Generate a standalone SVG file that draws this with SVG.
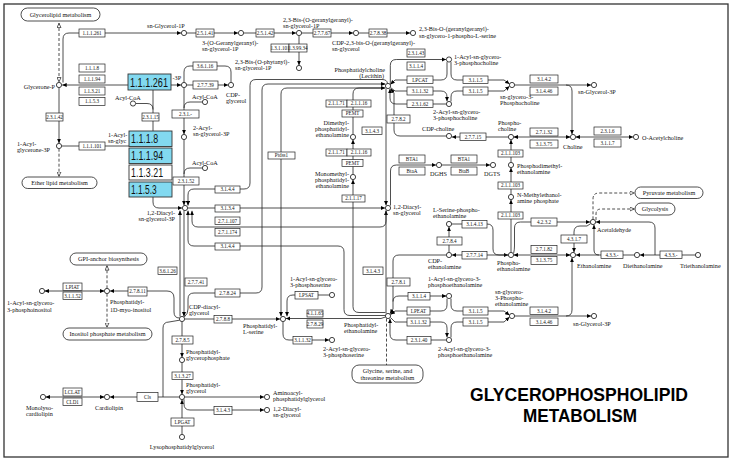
<svg xmlns="http://www.w3.org/2000/svg" width="733" height="462" viewBox="0 0 733 462">
<defs>
<style>
text{font-family:"Liberation Serif","Times New Roman",serif;fill:#111}
.k{font-size:5.1px;text-anchor:middle}
.t{font-size:6.2px}
.r{text-anchor:end}
.m{text-anchor:middle}
.n rect{fill:#fff;stroke:#222;stroke-width:0.7}
#connectors path{fill:none;stroke:#222;stroke-width:0.8}
#connectors path.d{stroke-dasharray:3 2}
#connectors path.a{marker-end:url(#ah)}
#connectors path.b{marker-start:url(#ahs)}
#connectors path.o{marker-end:url(#oh)}
#connectors path.os{marker-start:url(#ohs)}
.c{fill:#fff;stroke:#111;stroke-width:0.8}
.bl rect{fill:#82d9f0;stroke:#333;stroke-width:0.9}
.wb rect{fill:#fff;stroke:#333;stroke-width:0.9}
.bt{font-family:"Liberation Sans",Arial,sans-serif;font-size:12px;fill:#111}
.mp rect{fill:#fff;stroke:#222;stroke-width:0.8}
.ttl{font-family:"Liberation Sans",Arial,sans-serif;font-weight:700;font-size:19px;fill:#000;text-anchor:middle}
</style>
<marker id="ah" viewBox="0 0 6 6" refX="6" refY="3" markerWidth="4.5" markerHeight="4.5" markerUnits="userSpaceOnUse" orient="auto"><path d="M0,0.3 L6,3 L0,5.7z" fill="#000"/></marker>
<marker id="ahs" viewBox="0 0 6 6" refX="6" refY="3" markerWidth="4.5" markerHeight="4.5" markerUnits="userSpaceOnUse" orient="auto-start-reverse"><path d="M0,0.3 L6,3 L0,5.7z" fill="#000"/></marker>
<marker id="oh" viewBox="0 0 8 8" refX="8" refY="4" markerWidth="5" markerHeight="5" markerUnits="userSpaceOnUse" orient="auto"><path d="M0.6,0.8 L7.4,4 L0.6,7.2z" fill="#fff" stroke="#000" stroke-width="1"/></marker>
<marker id="ohs" viewBox="0 0 8 8" refX="8" refY="4" markerWidth="5" markerHeight="5" markerUnits="userSpaceOnUse" orient="auto-start-reverse"><path d="M0.6,0.8 L7.4,4 L0.6,7.2z" fill="#fff" stroke="#000" stroke-width="1"/></marker>
</defs>
<rect x="0" y="0" width="733" height="462" fill="#fff"/>
<rect x="4" y="4" width="724" height="453" fill="none" stroke="#333" stroke-width="1.3"/>

<g id="connectors">
<path class="a" d="M63,82.5 V39 Q63,33 69,33 H181.2"/>
<path class="a" d="M186.7,33 H238.2"/>
<path class="a" d="M243.7,33 H296.2"/>
<path class="a" d="M301.7,33 H353.2"/>
<path class="a" d="M358.7,33 H410.2"/>
<path class="a" d="M299,35.7 V65.2"/>
<path class="d o os" d="M59,23 V82.2"/>
<path class="a" d="M128,85 H62.2"/>
<path class="a" d="M171,85 H181.2"/>
<path class="a" d="M59,87.7 V143.2"/>
<path d="M61.7,146 H129"/>
<path class="d o" d="M59,148.7 V176.5"/>
<path d="M153,90 V131"/>
<path d="M135.7,103.5 H147 Q153,103.5 153,109.5"/>
<path class="a" d="M184,87.7 V134.2"/>
<path d="M202.3,102 H190 Q184,102 184,108"/>
<path d="M184,82.3 V72 Q184,66 190,66 H225 Q231,66 231,72 V82.3"/>
<path class="a" d="M186.7,85 H228.2"/>
<path class="a" d="M184,139.7 V205.2"/>
<path d="M202.3,168 H190 Q184,168 184,174"/>
<path class="a" d="M387.5,83.4 Q387,79.5 382,79.5 H256 Q250,79.5 250,85.5 V183 Q250,189 244,189 H194 Q188,189 188,195 V205.6"/>
<path class="a" d="M184.3,317 Q188,314 188,309 V299 Q188,293 194,293 H256 Q262,293 262,287 V90 Q262,84 268,84 H385.4"/>
<path class="a" d="M381,88 H287 Q281,88 281,94 V316.4"/>
<path class="a" d="M359,88 H385.4"/>
<path d="M353,134.3 V94 Q353,88 359,88"/>
<path class="a" d="M385.4,312.5 H359 Q353,312.5 353,306.5 V179.7"/>
<path class="a" d="M353,174.3 V139.7"/>
<path class="a" d="M390.3,84.3 V65.5 Q390.3,59.5 396.3,59.5 H446.2"/>
<path class="a" d="M447,62.1 V74 Q447,80 441,80 H395 L390.4,84.6"/>
<path class="a" d="M390.6,87.6 L395,91 H441 Q447,91 447,97 V101.3"/>
<path class="a" d="M451,62.1 V74 Q451,80 457,80 H504 L509.6,84"/>
<path class="a" d="M451,101.4 V97 Q451,91 457,91 H504 L509.6,86.2"/>
<path class="a" d="M446.4,104 H396 Q390,104 390,98 V88.8"/>
<path class="a" d="M446.4,136 H400 Q394,136 394,130 V93 L390.6,88.6"/>
<path class="a" d="M386,88.6 V205.4"/>
<path class="a" d="M390.5,205.6 V171 Q390.5,165 396.5,165 H436.2"/>
<path class="a" d="M441.7,165 H490.2"/>
<path class="a" d="M508.4,137 H451.8"/>
<path class="a b" d="M513.7,137 H570.3"/>
<path class="a" d="M514.7,85 H566 Q572,85 572,91 V134.3"/>
<path class="a" d="M566,85 H591.2"/>
<path class="a b" d="M575.7,137 H633.2"/>
<path class="a" d="M511,252.3 V199.8"/>
<path class="a" d="M511,194.3 V167.8"/>
<path class="a" d="M511,162.3 V139.8"/>
<path class="a" d="M513.6,253.4 Q514.5,250 514.5,246 V228 Q514.5,222 520.5,222 H590.2"/>
<path class="a" d="M451.7,224 H487 Q493,224 493,230 V249 Q493,255 499,255 H508.2"/>
<path class="a" d="M508.3,255 H451.8"/>
<path class="a" d="M449,252.3 V226.8"/>
<path class="a b" d="M513.7,255 H570.3"/>
<path class="a" d="M590.7,223.6 L587,226 H580 Q574,226 574,232 V252.3"/>
<path class="a" d="M634.3,255 H575.8"/>
<path class="a" d="M599,255 Q594,255 594,250 V224.8"/>
<path class="a" d="M695.3,255 H639.8"/>
<path class="a" d="M655,255 V228 Q655,222 649,222 H595.8"/>
<path class="d o" d="M593,219.3 V199 Q593,193 599,193 H634.5"/>
<path class="d o" d="M596,220 V214 Q596,209 601,209 H634.5"/>
<path class="a" d="M446.3,255 H399 Q393,255 393,261 V309 L390,313.8"/>
<path class="a" d="M393,301.5 Q393,296 399,296 H446.3"/>
<path class="a" d="M386,313.5 V210.6"/>
<path class="a" d="M447,298.6 V305 Q447,311 441,311 H395 L390.5,314.6"/>
<path class="a" d="M390.6,317.6 L395,322 H441 Q447,322 447,328 V337.3"/>
<path class="a" d="M451,298.6 V305 Q451,311 457,311 H504 L509.6,315.2"/>
<path class="a" d="M451,337.4 V328 Q451,322 457,322 H504 L509.6,317"/>
<path class="a" d="M446.3,340 H396 Q390,340 390,334 V318.7"/>
<path class="d" d="M386.5,318.6 V365"/>
<path class="a" d="M514.7,316 H566 Q572,316 572,310 V257.8"/>
<path class="a" d="M566,316 H591.2"/>
<path class="a" d="M385.4,317 L381,318.5 H285.8"/>
<path class="a" d="M385.5,315.5 H350 Q344,315.5 344,309.5 V252 Q344,246 338,246 H194 Q188,246 188,240 V210.6"/>
<path class="a" d="M386,210.6 V221 Q386,227 380,227 H198 Q192,227 192,221 V210.8"/>
<path class="a" d="M187.7,208 H385.2"/>
<path class="a" d="M153,197 V202 Q153,208 159,208 H182.2"/>
<path class="a" d="M180,316.5 V210.5"/>
<path class="a" d="M184,210.6 V316.5"/>
<path class="a" d="M184.7,319 H280.2"/>
<path class="a" d="M329.3,295 H293 Q287,295 287,301 V316.3"/>
<path class="a" d="M283,321.7 V334 Q283,340 289,340 H329.2"/>
<path class="a" d="M179.4,318 Q174,318 174,312 V298 Q174,291 167,291 H109.8"/>
<path class="a b" d="M44.7,291 H104.3"/>
<path class="o d" d="M107,288.3 V265.5"/>
<path class="o d" d="M107,293.7 V327.5"/>
<path class="a" d="M179.3,397 H109.8"/>
<path d="M163,397 V328 Q163,322 169,322 L179.6,320.2"/>
<path class="a b" d="M45.7,397 H104.3"/>
<path class="a" d="M182,321.7 V357.2"/>
<path class="a" d="M182,362.7 V394.2"/>
<path class="a" d="M182,434.3 V399.8"/>
<path class="a" d="M184.7,397 H264.2"/>
<path class="a" d="M184,399.3 V404 Q184,410 190,410 H264.2"/>
</g>

<!-- map links -->
<g id="map-glycerolipid" class="mp"><rect x="21" y="8" width="79" height="13" rx="6.5"/><text class="t m" x="60.5" y="16.8">Glycerolipid metabolism</text></g>
<g id="map-etherlipid" class="mp"><rect x="22" y="177" width="75" height="11.5" rx="5.7"/><text class="t m" x="59.5" y="184.8">Ether lipid metabolism</text></g>
<g id="map-gpi" class="mp"><rect x="70" y="253" width="77" height="12" rx="6"/><text class="t m" x="108.5" y="261.2">GPI-anchor biosynthesis</text></g>
<g id="map-inositol" class="mp"><rect x="63" y="328" width="89" height="12" rx="6"/><text class="t m" x="107.5" y="336.2">Inositol phosphate metabolism</text></g>
<g id="map-glycine" class="mp"><rect x="352" y="365" width="71" height="18" rx="7"/><text class="t m" x="387.5" y="373">Glycine, serine, and</text><text class="t m" x="387.5" y="379.5">threonine metabolism</text></g>
<g id="map-pyruvate" class="mp"><rect x="635" y="187" width="68" height="11.5" rx="5.7"/><text class="t m" x="669" y="194.7">Pyruvate metabolism</text></g>
<g id="map-glycolysis" class="mp"><rect x="635" y="203" width="40" height="12" rx="6"/><text class="t m" x="655" y="211.2">Glycolysis</text></g>

<!-- enzyme boxes -->
<g id="e1" class="n"><rect x="79" y="29" width="26" height="8"/><text class="k" x="92" y="34.8">1.1.1.261</text></g>
<g id="e2" class="n"><rect x="196" y="29" width="18" height="8"/><text class="k" x="205" y="34.8">2.5.1.41</text></g>
<g id="e3" class="n"><rect x="256" y="29" width="18" height="8"/><text class="k" x="265" y="34.8">2.5.1.42</text></g>
<g id="e4" class="n"><rect x="313" y="29" width="18" height="8"/><text class="k" x="322" y="34.8">2.7.7.67</text></g>
<g id="e5" class="n"><rect x="369" y="29" width="18" height="8"/><text class="k" x="378" y="34.8">2.7.8.38</text></g>
<g id="e6" class="n"><rect x="271" y="44" width="18" height="8"/><text class="k" x="280" y="49.8">1.3.1.101</text></g>
<g id="e7" class="n"><rect x="289" y="44" width="18" height="8"/><text class="k" x="298" y="49.8">1.3.99.34</text></g>
<g id="e8" class="n"><rect x="79" y="64" width="26" height="8"/><text class="k" x="92" y="69.8">1.1.1.8</text></g>
<g id="e9" class="n"><rect x="79" y="75" width="26" height="8"/><text class="k" x="92" y="80.8">1.1.1.94</text></g>
<g id="e10" class="n"><rect x="79" y="87" width="26" height="8"/><text class="k" x="92" y="92.8">1.1.3.21</text></g>
<g id="e11" class="n"><rect x="79" y="97.5" width="26" height="8"/><text class="k" x="92" y="103.3">1.1.5.3</text></g>
<g id="e12" class="n"><rect x="46" y="113" width="17" height="8"/><text class="k" x="54.5" y="118.8">2.3.1.42</text></g>
<g id="e13" class="n"><rect x="142" y="113" width="17" height="8"/><text class="k" x="150.5" y="118.8">2.3.1.15</text></g>
<g id="e14" class="n"><rect x="172" y="110" width="27" height="8"/><text class="k" x="185.5" y="115.8">2.3.1.-</text></g>
<g id="e15" class="n"><rect x="79" y="142" width="26" height="8"/><text class="k" x="92" y="147.8">1.1.1.101</text></g>
<g id="e16" class="n"><rect x="193" y="62" width="24" height="8"/><text class="k" x="205" y="67.8">3.6.1.16</text></g>
<g id="e17" class="n"><rect x="193" y="81" width="25" height="8"/><text class="k" x="205.5" y="86.8">2.7.7.39</text></g>
<g id="e18" class="n"><rect x="173" y="177" width="26" height="8"/><text class="k" x="186" y="182.8">2.3.1.52</text></g>
<g id="e19" class="n"><rect x="215" y="186" width="25" height="7"/><text class="k" x="227.5" y="191.3">3.1.4.4</text></g>
<g id="e20" class="n"><rect x="215" y="205" width="25" height="7"/><text class="k" x="227.5" y="210.3">3.1.3.4</text></g>
<g id="e21" class="n"><rect x="215" y="217" width="25" height="7.5"/><text class="k" x="227.5" y="222.5">2.7.1.107</text></g>
<g id="e22" class="n"><rect x="215" y="228.5" width="25" height="7.5"/><text class="k" x="227.5" y="234">2.7.1.174</text></g>
<g id="e23" class="n"><rect x="215" y="243" width="25" height="7"/><text class="k" x="227.5" y="248.3">3.1.4.4</text></g>
<g id="e24" class="n"><rect x="268" y="152" width="27" height="7"/><text class="k" x="281.5" y="157.3">Ptdss1</text></g>
<g id="e25" class="n"><rect x="326" y="100" width="21" height="7"/><text class="k" x="336.5" y="105.3">2.1.1.71</text></g>
<g id="e26" class="n"><rect x="347" y="100" width="24" height="7"/><text class="k" x="359" y="105.3">2.1.1.16</text></g>
<g id="e27" class="n"><rect x="342" y="110" width="21" height="7"/><text class="k" x="352.5" y="115.3">PEMT</text></g>
<g id="e28" class="n"><rect x="326" y="149" width="21" height="7"/><text class="k" x="336.5" y="154.3">2.1.1.71</text></g>
<g id="e29" class="n"><rect x="347" y="149" width="24" height="7"/><text class="k" x="359" y="154.3">2.1.1.16</text></g>
<g id="e30" class="n"><rect x="342" y="159.5" width="21" height="7"/><text class="k" x="352.5" y="164.8">PEMT</text></g>
<g id="e31" class="n"><rect x="342" y="195" width="23" height="7"/><text class="k" x="353.5" y="200.3">2.1.1.17</text></g>
<g id="e32" class="n"><rect x="407" y="49" width="18" height="8"/><text class="k" x="416" y="54.8">2.3.1.43</text></g>
<g id="e33" class="n"><rect x="407" y="62" width="18" height="8"/><text class="k" x="416" y="67.8">3.1.1.4</text></g>
<g id="e34" class="n"><rect x="407" y="76" width="26" height="7.5"/><text class="k" x="420" y="81.5">LPCAT</text></g>
<g id="e35" class="n"><rect x="407" y="87" width="26" height="8"/><text class="k" x="420" y="92.8">3.1.1.32</text></g>
<g id="e36" class="n"><rect x="407" y="100" width="26" height="7.5"/><text class="k" x="420" y="105.5">2.3.1.62</text></g>
<g id="e37" class="n"><rect x="463" y="76" width="25" height="7.5"/><text class="k" x="475.5" y="81.5">3.1.1.5</text></g>
<g id="e38" class="n"><rect x="463" y="87" width="25" height="8"/><text class="k" x="475.5" y="92.8">3.1.1.5</text></g>
<g id="e39" class="n"><rect x="530" y="75" width="28" height="8"/><text class="k" x="544" y="80.8">3.1.4.2</text></g>
<g id="e40" class="n"><rect x="530" y="87" width="28" height="8"/><text class="k" x="544" y="92.8">3.1.4.46</text></g>
<g id="e41" class="n"><rect x="387" y="115" width="23" height="8"/><text class="k" x="398.5" y="120.8">2.7.8.2</text></g>
<g id="e42" class="n"><rect x="362" y="127" width="20" height="7.5"/><text class="k" x="372" y="132.5">3.1.4.3</text></g>
<g id="e43" class="n"><rect x="460" y="133" width="26" height="7.5"/><text class="k" x="473" y="138.5">2.7.7.15</text></g>
<g id="e44" class="n"><rect x="530" y="128" width="28" height="8"/><text class="k" x="544" y="133.8">2.7.1.32</text></g>
<g id="e45" class="n"><rect x="530" y="140" width="28" height="8"/><text class="k" x="544" y="145.8">3.1.3.75</text></g>
<g id="e46" class="n"><rect x="594" y="127" width="27" height="8"/><text class="k" x="607.5" y="132.8">2.3.1.6</text></g>
<g id="e47" class="n"><rect x="594" y="139" width="27" height="8"/><text class="k" x="607.5" y="144.8">3.1.1.7</text></g>
<g id="e48" class="n"><rect x="498" y="150" width="25" height="7"/><text class="k" x="510.5" y="155.3">2.1.1.103</text></g>
<g id="e49" class="n"><rect x="498" y="182" width="25" height="7"/><text class="k" x="510.5" y="187.3">2.1.1.103</text></g>
<g id="e50" class="n"><rect x="498" y="212" width="25" height="7"/><text class="k" x="510.5" y="217.3">2.1.1.103</text></g>
<g id="e51" class="n"><rect x="399" y="155" width="26" height="8"/><text class="k" x="412" y="160.8">BTA1</text></g>
<g id="e52" class="n"><rect x="399" y="167" width="26" height="8"/><text class="k" x="412" y="172.8">BtaA</text></g>
<g id="e53" class="n"><rect x="451" y="155" width="26" height="8"/><text class="k" x="464" y="160.8">BTA1</text></g>
<g id="e54" class="n"><rect x="451" y="167" width="26" height="8"/><text class="k" x="464" y="172.8">BtaB</text></g>
<g id="e55" class="n"><rect x="462" y="220.5" width="25" height="7.5"/><text class="k" x="474.5" y="226">3.1.4.13</text></g>
<g id="e56" class="n"><rect x="437" y="237" width="25" height="8"/><text class="k" x="449.5" y="242.8">2.7.8.4</text></g>
<g id="e57" class="n"><rect x="462" y="251.5" width="25" height="7.5"/><text class="k" x="474.5" y="257">2.7.7.14</text></g>
<g id="e58" class="n"><rect x="531" y="218" width="26" height="8"/><text class="k" x="544" y="223.8">4.2.3.2</text></g>
<g id="e59" class="n"><rect x="531" y="245.5" width="26" height="8"/><text class="k" x="544" y="251.3">2.7.1.82</text></g>
<g id="e60" class="n"><rect x="531" y="256.5" width="26" height="8"/><text class="k" x="544" y="262.3">3.1.3.75</text></g>
<g id="e61" class="n"><rect x="561" y="235" width="26" height="8"/><text class="k" x="574" y="240.8">4.3.1.7</text></g>
<g id="e62" class="n"><rect x="601" y="251" width="22" height="7.5"/><text class="k" x="612" y="256.5">4.3.3.-</text></g>
<g id="e63" class="n"><rect x="660" y="251" width="22" height="7.5"/><text class="k" x="671" y="256.5">4.3.3.-</text></g>
<g id="e64" class="n"><rect x="363" y="267" width="20" height="7.5"/><text class="k" x="373" y="272.5">3.1.4.3</text></g>
<g id="e65" class="n"><rect x="387" y="278" width="23" height="8"/><text class="k" x="398.5" y="283.8">2.7.8.1</text></g>
<g id="e66" class="n"><rect x="408" y="292.5" width="22" height="7.5"/><text class="k" x="419" y="298">3.1.1.4</text></g>
<g id="e67" class="n"><rect x="407" y="307" width="23" height="8"/><text class="k" x="418.5" y="312.8">LPEAT</text></g>
<g id="e68" class="n"><rect x="407" y="318" width="23" height="8"/><text class="k" x="418.5" y="323.8">3.1.1.32</text></g>
<g id="e69" class="n"><rect x="463" y="307" width="25" height="8"/><text class="k" x="475.5" y="312.8">3.1.1.5</text></g>
<g id="e70" class="n"><rect x="463" y="318" width="25" height="8"/><text class="k" x="475.5" y="323.8">3.1.1.5</text></g>
<g id="e71" class="n"><rect x="530" y="307" width="28" height="7.5"/><text class="k" x="544" y="312.5">3.1.4.2</text></g>
<g id="e72" class="n"><rect x="530" y="318" width="28" height="7.5"/><text class="k" x="544" y="323.5">3.1.4.46</text></g>
<g id="e73" class="n"><rect x="407" y="336.5" width="24" height="7.5"/><text class="k" x="419" y="342">2.3.1.40</text></g>
<g id="e74" class="n"><rect x="307" y="310" width="16" height="7"/><text class="k" x="315" y="315.3">4.1.1.65</text></g>
<g id="e75" class="n"><rect x="307" y="320" width="16" height="8"/><text class="k" x="315" y="325.8">2.7.8.29</text></g>
<g id="e76" class="n"><rect x="295" y="291.5" width="23" height="7.5"/><text class="k" x="306.5" y="297">LPSAT</text></g>
<g id="e77" class="n"><rect x="293" y="336.5" width="19" height="7.5"/><text class="k" x="302.5" y="342">3.1.1.32</text></g>
<g id="e78" class="n"><rect x="214" y="315.5" width="18" height="7.5"/><text class="k" x="223" y="321">2.7.8.8</text></g>
<g id="e79" class="n"><rect x="215" y="289" width="25" height="8"/><text class="k" x="227.5" y="294.8">2.7.8.24</text></g>
<g id="e80" class="n"><rect x="185" y="278" width="22" height="8"/><text class="k" x="196" y="283.8">2.7.7.41</text></g>
<g id="e81" class="n"><rect x="158" y="267" width="19" height="7.5"/><text class="k" x="167.5" y="272.5">3.6.1.26</text></g>
<g id="e82" class="n"><rect x="128" y="287" width="19" height="9"/><text class="k" x="137.5" y="293.3">2.7.8.11</text></g>
<g id="e83" class="n"><rect x="63" y="283" width="19" height="7.5"/><text class="k" x="72.5" y="288.5">LPIAT</text></g>
<g id="e84" class="n"><rect x="63" y="292" width="19" height="7.5"/><text class="k" x="72.5" y="297.5">3.1.1.52</text></g>
<g id="e85" class="n"><rect x="172" y="336" width="21" height="8"/><text class="k" x="182.5" y="341.8">2.7.8.5</text></g>
<g id="e86" class="n"><rect x="172" y="372" width="21" height="7.5"/><text class="k" x="182.5" y="377.5">3.1.3.27</text></g>
<g id="e87" class="n"><rect x="171" y="418" width="23" height="8"/><text class="k" x="182.5" y="423.8">LPGAT</text></g>
<g id="e88" class="n"><rect x="214" y="406.5" width="18" height="8"/><text class="k" x="223" y="412.3">3.1.4.3</text></g>
<g id="e89" class="n"><rect x="137" y="392.5" width="21" height="9"/><text class="k" x="147.5" y="398.8">Cls</text></g>
<g id="e90" class="n"><rect x="63" y="388" width="19" height="8"/><text class="k" x="72.5" y="393.8">LCLAT</text></g>
<g id="e91" class="n"><rect x="63" y="398" width="19" height="7.5"/><text class="k" x="72.5" y="403.5">CLD1</text></g>

<!-- highlighted enzymes -->
<g id="h1" class="bl"><rect x="128" y="74" width="43" height="16"/><text class="bt" transform="translate(130,86.5) scale(0.76,1)">1.1.1.261</text></g>
<g id="h2" class="bl"><rect x="129" y="131" width="43" height="15.5"/><text class="bt" transform="translate(131,143) scale(0.74,1)">1.1.1.8</text></g>
<g id="h3" class="bl"><rect x="129" y="148" width="43" height="15.5"/><text class="bt" transform="translate(131,160) scale(0.74,1)">1.1.1.94</text></g>
<g id="h4" class="wb"><rect x="129" y="165" width="43" height="15"/><text class="bt" transform="translate(131,177) scale(0.74,1)">1.1.3.21</text></g>
<g id="h5" class="bl"><rect x="129" y="182" width="43" height="15"/><text class="bt" transform="translate(131,194) scale(0.7,1)">1.1.5.3</text></g>

<!-- compounds -->
<g id="glyceroneP"><circle class="c" cx="59" cy="85" r="2.6"/><text class="t r" x="55" y="89">Glycerone-P</text></g>
<g id="snG1P"><circle class="c" cx="184" cy="33" r="2.6"/><text class="t" x="147" y="28">sn-Glycerol-1P</text></g>
<g id="ggG1P"><circle class="c" cx="241" cy="33" r="2.6"/><text class="t" x="202" y="45">3-(O-Geranylgeranyl)-</text><text class="t" x="202" y="51">sn-glycerol-1P</text></g>
<g id="bisggG1P"><circle class="c" cx="299" cy="33" r="2.6"/><text class="t" x="283" y="22">2,3-Bis-(O-geranylgeranyl)-</text><text class="t" x="283" y="28">sn-glycerol-1P</text></g>
<g id="cdpbisgg"><circle class="c" cx="356" cy="33" r="2.6"/><text class="t" x="332" y="45">CDP-2,3-bis-O-(geranylgeranyl)-</text><text class="t" x="332" y="51">sn-glycerol</text></g>
<g id="bisggser"><circle class="c" cx="413" cy="33" r="2.6"/><text class="t" x="419" y="31">2,3-Bis-O-(geranylgeranyl)-</text><text class="t" x="419" y="38">sn-glycero-1-phospho-L-serine</text></g>
<g id="phytanyl"><circle class="c" cx="299" cy="68" r="2.6"/><text class="t" x="235" y="64">2,3-Bis-(O-phytanyl)-</text><text class="t" x="235" y="70">sn-glycerol-1P</text></g>
<g id="snG3P"><circle class="c" cx="184" cy="85" r="2.6"/><text class="t" x="172.5" y="80">-3P</text></g>
<g id="cdpglycerol"><circle class="c" cx="231" cy="85" r="2.6"/><text class="t" x="226" y="97">CDP-</text><text class="t" x="226" y="103">glycerol</text></g>
<g id="acylcoa1"><circle class="c" cx="133" cy="103.5" r="2.6"/><text class="t" x="115" y="99.5">Acyl-CoA</text></g>
<g id="acylcoa2"><circle class="c" cx="205" cy="102" r="2.6"/><text class="t" x="192" y="98.5">Acyl-CoA</text></g>
<g id="acylcoa3"><circle class="c" cx="205" cy="168" r="2.6"/><text class="t" x="192" y="164.5">Acyl-CoA</text></g>
<g id="acylglyceroneP"><circle class="c" cx="59" cy="146" r="2.6"/><text class="t" x="17" y="145.5">1-Acyl-</text><text class="t" x="17" y="152">glycerone-3P</text></g>
<g id="acyl1G3P"><text class="t" x="108" y="136.5">1-Acyl-</text><text class="t" x="108" y="143">sn-glyc</text></g>
<g id="acyl2G3P"><circle class="c" cx="184" cy="137" r="2.6"/><text class="t" x="193" y="129.5">2-Acyl-</text><text class="t" x="193" y="135.5">sn-glycerol-3P</text></g>
<g id="PA"><circle class="c" cx="185" cy="208" r="2.6"/><text class="t r" x="175" y="214.5">1,2-Diacyl-</text><text class="t r" x="175" y="220.5">sn-glycerol-3P</text></g>
<g id="PC"><circle class="c" cx="388" cy="86" r="2.6"/><text class="t r" x="385" y="71.5">Phosphatidylcholine</text><text class="t r" x="384" y="77.5">(Lecithin)</text></g>
<g id="acyl1GPC"><circle class="c" cx="449" cy="59.5" r="2.6"/><text class="t" x="454" y="58.5">1-Acyl-sn-glycero-</text><text class="t" x="454" y="64.5">3-phosphocholine</text></g>
<g id="acyl2GPC"><circle class="c" cx="449" cy="104" r="2.6"/><text class="t" x="433" y="113.5">2-Acyl-sn-glycero-</text><text class="t" x="433" y="119.5">3-phosphocholine</text></g>
<g id="GPC"><circle class="c" cx="512" cy="85" r="2.6"/><text class="t" x="500" y="98.5">sn-glycero-3-</text><text class="t" x="500" y="104.5">Phosphocholine</text></g>
<g id="snG3P2"><circle class="c" cx="594" cy="85" r="2.6"/><text class="t" x="578" y="93.5">sn-Glycerol-3P</text></g>
<g id="cdpcholine"><circle class="c" cx="449" cy="136" r="2.6"/><text class="t" x="422" y="130.5">CDP-choline</text></g>
<g id="phosphocholine"><circle class="c" cx="511" cy="137" r="2.6"/><text class="t" x="498" y="125">Phospho-</text><text class="t" x="498" y="131">choline</text></g>
<g id="choline"><circle class="c" cx="573" cy="137" r="2.6"/><text class="t" x="563" y="149">Choline</text></g>
<g id="acetylcholine"><circle class="c" cx="636" cy="137" r="2.6"/><text class="t" x="642" y="139.5">O-Acetylcholine</text></g>
<g id="dimethylPE"><circle class="c" cx="353" cy="137" r="2.6"/><text class="t r" x="349" y="124.5">Dimethyl-</text><text class="t r" x="349" y="130.5">phosphatidyl-</text><text class="t r" x="349" y="136.5">ethanolamine</text></g>
<g id="monomethylPE"><circle class="c" cx="353" cy="177" r="2.6"/><text class="t r" x="349" y="175.5">Monomethyl-</text><text class="t r" x="349" y="181.5">phosphatidyl-</text><text class="t r" x="349" y="187.5">ethanolamine</text></g>
<g id="DAG"><circle class="c" cx="388" cy="208" r="2.6"/><text class="t" x="393" y="208.5">1,2-Diacyl-</text><text class="t" x="393" y="214.5">sn-glycerol</text></g>
<g id="DGHS"><circle class="c" cx="439" cy="165" r="2.6"/><text class="t" x="430" y="175.5">DGHS</text></g>
<g id="DGTS"><circle class="c" cx="493" cy="165" r="2.6"/><text class="t" x="484" y="175.5">DGTS</text></g>
<g id="pdme"><circle class="c" cx="511" cy="165" r="2.6"/><text class="t" x="517" y="167.5">Phosphodimethyl-</text><text class="t" x="517" y="173.5">ethanolamine</text></g>
<g id="nme"><circle class="c" cx="511" cy="197" r="2.6"/><text class="t" x="517" y="196.5">N-Methylethanol-</text><text class="t" x="517" y="203">amine phosphate</text></g>
<g id="serPE"><circle class="c" cx="449" cy="224" r="2.6"/><text class="t" x="433" y="211.5">L-Serine-phospho-</text><text class="t" x="433" y="217.5">ethanolamine</text></g>
<g id="cdpetn"><circle class="c" cx="449" cy="255" r="2.6"/><text class="t" x="428" y="262.5">CDP-</text><text class="t" x="428" y="268.5">ethanolamine</text></g>
<g id="phosphoetn"><circle class="c" cx="511" cy="255" r="2.6"/><text class="t" x="497" y="265">Phospho-</text><text class="t" x="497" y="271">ethanolamine</text></g>
<g id="acetaldehyde"><circle class="c" cx="593" cy="222" r="2.6"/><text class="t" x="597" y="231.5">Acetaldehyde</text></g>
<g id="ethanolamine"><circle class="c" cx="573" cy="255" r="2.6"/><text class="t" x="577" y="267.5">Ethanolamine</text></g>
<g id="diethanolamine"><circle class="c" cx="637" cy="255" r="2.6"/><text class="t" x="623" y="267.5">Diethanolamine</text></g>
<g id="triethanolamine"><circle class="c" cx="698" cy="255" r="2.6"/><text class="t" x="680" y="267.5">Triethanolamine</text></g>
<g id="acyl1GPE"><circle class="c" cx="449" cy="296" r="2.6"/><text class="t" x="428" y="280.5">1-Acyl-sn-glycero-3-</text><text class="t" x="428" y="286.5">phosphoethanolamine</text></g>
<g id="PE"><circle class="c" cx="388" cy="316" r="2.6"/><text class="t" x="344" y="326.5">Phosphatidyl-</text><text class="t" x="344" y="332.5">ethanolamine</text></g>
<g id="GPE"><circle class="c" cx="512" cy="316" r="2.6"/><text class="t" x="495" y="294">sn-glycero-</text><text class="t" x="495" y="300">3-Phospho-</text><text class="t" x="495" y="306">ethanolamine</text></g>
<g id="snG3P3"><circle class="c" cx="594" cy="316" r="2.6"/><text class="t" x="573" y="325.5">sn-Glycerol-3P</text></g>
<g id="acyl2GPE"><circle class="c" cx="449" cy="340" r="2.6"/><text class="t" x="438" y="350.5">2-Acyl-sn-glycero-3-</text><text class="t" x="438" y="356.5">phosphoethanolamine</text></g>
<g id="PS"><circle class="c" cx="283" cy="319" r="2.6"/><text class="t" x="243" y="327.5">Phosphatidyl-</text><text class="t" x="243" y="333.5">L-serine</text></g>
<g id="acyl1GPS"><circle class="c" cx="332" cy="295" r="2.6"/><text class="t" x="290" y="280.5">1-Acyl-sn-glycero-</text><text class="t" x="290" y="286.5">3-phosphoserine</text></g>
<g id="acyl2GPS"><circle class="c" cx="332" cy="340" r="2.6"/><text class="t" x="323" y="350.5">2-Acyl-sn-glycero-</text><text class="t" x="323" y="356.5">3-phosphoserine</text></g>
<g id="CDPDAG"><circle class="c" cx="182" cy="319" r="2.6"/><text class="t" x="189" y="308.5">CDP-diacyl-</text><text class="t" x="189" y="314.5">glycerol</text></g>
<g id="PI"><circle class="c" cx="107" cy="291" r="2.6"/><text class="t" x="110" y="303.5">Phosphatidyl-</text><text class="t" x="110" y="311.5">1D-myo-inositol</text></g>
<g id="LPI"><circle class="c" cx="42" cy="291" r="2.6"/><text class="t" x="7" y="304.5">1-Acyl-sn-glycero-</text><text class="t" x="7" y="311.5">3-phosphoinositol</text></g>
<g id="PGP"><circle class="c" cx="182" cy="360" r="2.6"/><text class="t" x="186" y="353.5">Phosphatidyl-</text><text class="t" x="186" y="359.5">glycerophosphate</text></g>
<g id="PG"><circle class="c" cx="182" cy="397" r="2.6"/><text class="t" x="186" y="386.5">Phosphatidyl-</text><text class="t" x="186" y="392.5">glycerol</text></g>
<g id="LPG"><circle class="c" cx="182" cy="437" r="2.6"/><text class="t m" x="182" y="448.5">Lysophosphatidylglycerol</text></g>
<g id="aaPG"><circle class="c" cx="267" cy="397" r="2.6"/><text class="t" x="273" y="395">Aminoacyl-</text><text class="t" x="273" y="401">phosphatidylglycerol</text></g>
<g id="DAG2"><circle class="c" cx="267" cy="410" r="2.6"/><text class="t" x="273" y="410.5">1,2-Diacyl-</text><text class="t" x="273" y="416.5">sn-glycerol</text></g>
<g id="CL"><circle class="c" cx="107" cy="397" r="2.6"/><text class="t" x="95" y="409.5">Cardiolipin</text></g>
<g id="MLCL"><circle class="c" cx="43" cy="397" r="2.6"/><text class="t" x="26" y="409.5">Monolyso-</text><text class="t" x="26" y="415.5">cardiolipin</text></g>

<g id="title">
<text class="ttl" x="579" y="401" textLength="218" lengthAdjust="spacingAndGlyphs">GLYCEROPHOSPHOLIPID</text>
<text class="ttl" x="580" y="422" textLength="114" lengthAdjust="spacingAndGlyphs">METABOLISM</text>
</g>
</svg>
